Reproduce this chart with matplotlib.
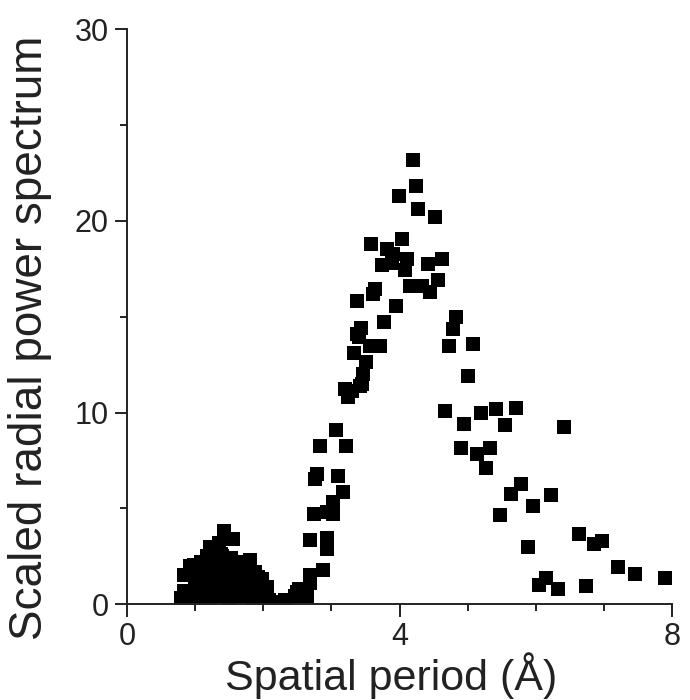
import matplotlib
matplotlib.use("Agg")
import matplotlib.pyplot as plt
from matplotlib.ticker import MultipleLocator

plt.rcParams['font.family'] = ['Liberation Sans', 'DejaVu Sans']

# low-period cluster (dense blob near 1-2 A)
blob_x = [0.80, 0.83, 0.84, 0.90, 0.92, 1.00, 1.01, 0.98, 1.02, 1.04, 1.06, 1.08, 1.10,
          1.12, 1.14, 1.16, 1.18, 1.20, 1.22, 1.24, 1.26, 1.28, 1.30, 1.31, 1.33,
          1.35, 1.36, 1.38, 1.40, 1.40, 1.42, 1.43, 1.45, 1.49, 1.50, 1.52, 1.54,
          1.56, 1.58, 1.60, 1.62, 1.64, 1.66, 1.68, 1.70, 1.72, 1.75, 1.78, 1.80,
          1.82, 1.85, 1.88, 1.90, 1.93, 1.96, 1.98, 2.02, 2.05, 2.08, 2.12, 2.18, 2.26]
blob_y = [0.30, 0.70, 1.52, 0.20, 2.00, 1.20, 0.60, 2.05, 1.60, 0.30, 1.00, 2.20, 0.50,
          1.40, 1.90, 0.80, 2.50, 0.20, 3.00, 1.70, 1.10, 2.40, 2.90, 0.60, 1.90,
          3.20, 1.30, 2.60, 0.40, 2.50, 3.80, 2.00, 1.00, 1.60, 0.20, 2.40, 1.20,
          3.40, 0.70, 1.90, 2.20, 1.10, 2.10, 0.40, 1.60, 1.00, 1.90, 0.60, 2.30,
          1.30, 0.20, 1.70, 0.90, 1.40, 0.50, 1.33, 0.40, 0.90, 0.20, 0.10, 0.05, 0.05]

# main peak around 4 A and its tail
peak_x = [2.32, 2.47, 2.49, 2.52, 2.64, 2.69, 2.68, 2.88, 2.69, 2.93, 2.93, 2.74, 2.93,
          3.03, 3.02, 3.17, 3.10, 2.79, 2.76, 2.83, 3.21, 3.07, 3.25, 3.20, 3.31,
          3.42, 3.45, 3.47, 3.51, 3.33, 3.40, 3.57, 3.71, 3.43, 3.37, 3.77, 3.37,
          3.95, 3.61, 3.64, 3.74, 3.89, 3.58, 3.81, 3.91, 4.03, 4.11, 4.08, 4.42,
          4.62, 4.16, 4.33, 4.45, 4.57, 3.99, 4.20, 4.24, 4.27, 4.52, 4.83, 4.78,
          5.08, 4.73, 5.01, 4.67, 5.20, 5.41, 5.71, 4.95, 5.55, 6.42, 4.90, 5.13,
          5.33, 5.27, 5.79, 5.63, 6.23, 5.96, 5.48, 5.88, 6.63, 6.85, 6.97, 7.21,
          7.46, 7.90, 6.04, 6.15, 6.32, 6.73]
peak_y = [0.20, 0.40, 0.65, 0.80, 0.40, 1.10, 1.50, 1.80, 3.35, 3.45, 2.90, 4.70, 4.80,
          4.70, 5.35, 5.85, 6.70, 6.80, 6.55, 8.25, 8.25, 9.10, 10.80, 11.25, 11.15,
          11.40, 11.50, 12.00, 12.65, 13.10, 13.95, 13.45, 13.45, 14.40, 14.10, 14.70, 15.80,
          15.55, 16.20, 16.45, 17.70, 17.80, 18.80, 18.55, 18.30, 19.05, 18.00, 17.45, 17.75,
          18.00, 16.60, 16.60, 16.30, 16.90, 21.30, 23.20, 21.80, 20.60, 20.20, 15.00, 14.35,
          13.60, 13.45, 11.90, 10.10, 10.00, 10.20, 10.25, 9.40, 9.35, 9.25, 8.15, 7.85,
          8.15, 7.10, 6.25, 5.75, 5.70, 5.10, 4.65, 3.00, 3.65, 3.15, 3.30, 1.95,
          1.55, 1.35, 1.00, 1.35, 0.80, 0.95]

fig = plt.figure(figsize=(6.9, 7.0), dpi=100)
ax = fig.add_axes([0.184, 0.137, 0.790, 0.821])

ax.scatter(blob_x + peak_x, blob_y + peak_y, marker='s', s=88, c='black', linewidths=0)

ax.set_xlim(0, 8)
ax.set_ylim(0, 30)
ax.xaxis.set_major_locator(MultipleLocator(4))
ax.xaxis.set_minor_locator(MultipleLocator(1))
ax.yaxis.set_major_locator(MultipleLocator(10))
ax.yaxis.set_minor_locator(MultipleLocator(5))

for side in ['top', 'right']:
    ax.spines[side].set_visible(False)
for side in ['left', 'bottom']:
    ax.spines[side].set_linewidth(1.4)
    ax.spines[side].set_color('#222222')

ax.tick_params(which='major', direction='out', length=9, width=1.4, color='#222222',
               labelsize=22, labelcolor='#222222')
ax.tick_params(which='minor', direction='out', length=5, width=1.4, color='#222222')
ax.tick_params(axis='x', which='major', pad=4)
ax.tick_params(axis='y', which='major', pad=4)

ax.set_xlabel('Spatial period (Å)', fontsize=31, color='#222222')
ax.set_ylabel('Scaled radial power spectrum', fontsize=33, color='#222222')
ax.xaxis.set_label_coords(0.485, -0.084)
ax.yaxis.set_label_coords(-0.138, 0.464)

fig.savefig('out.png', dpi=100)
